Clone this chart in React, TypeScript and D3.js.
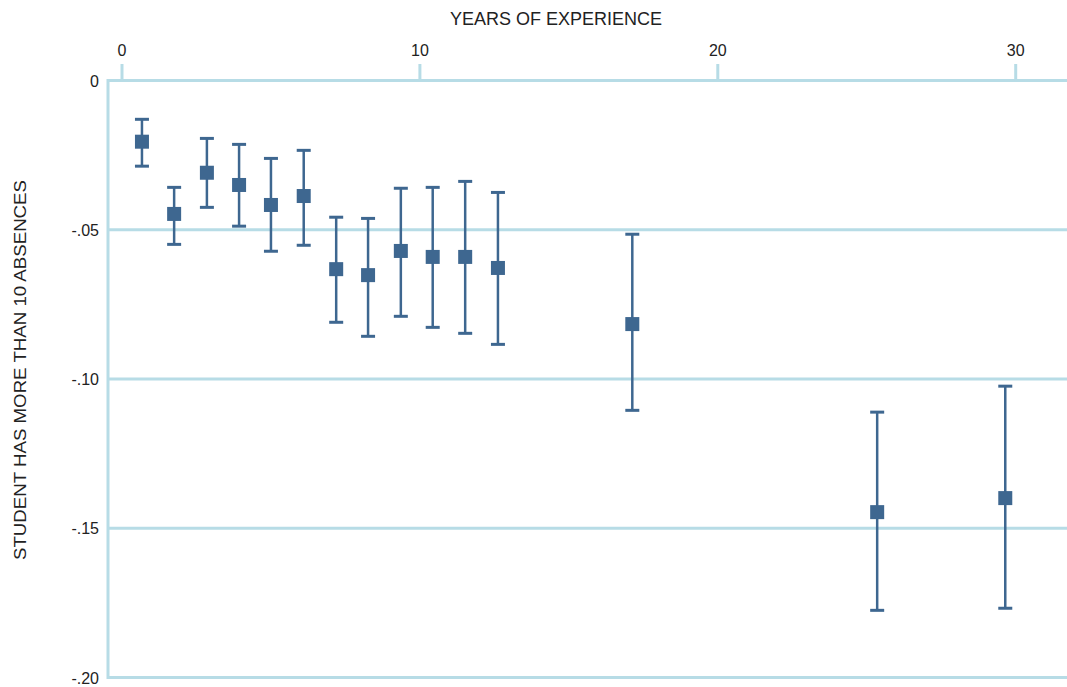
import React from 'react';
import * as d3 from 'd3';

// years of experience (bin means) and estimated effect with 95% CI
const years = [0.67, 1.75, 2.85, 3.93, 5.0, 6.1, 7.19, 8.26, 9.36, 10.43, 11.52, 12.62, 17.13, 25.35, 29.65];
const estimate = [-0.0205, -0.0447, -0.0309, -0.035, -0.0417, -0.0387, -0.0632, -0.0652, -0.0571, -0.0591, -0.0591, -0.0628, -0.0816, -0.1446, -0.1399];
const upper = [-0.013, -0.0358, -0.0194, -0.0214, -0.0261, -0.0234, -0.0458, -0.0462, -0.0361, -0.0358, -0.0338, -0.0375, -0.0515, -0.1111, -0.1024];
const lower = [-0.0287, -0.0549, -0.0425, -0.0488, -0.0572, -0.0552, -0.081, -0.0857, -0.079, -0.0827, -0.0847, -0.0884, -0.1105, -0.1775, -0.1768];

const xTicks = [0, 10, 20, 30];
const yTicks = [0, -0.05, -0.1, -0.15, -0.2];
const yTickLabels = ['0', '-.05', '-.10', '-.15', '-.20'];

const W = 1067;
const H = 687;
const left = 108;
const right = 1067;

const gridColor = '#b7dce6';
const markColor = '#3e6790';
const textColor = '#222';
const font = '"Liberation Sans", Arial, sans-serif';

const App: React.FC = () => {
  const x = d3.scaleLinear().domain([0, 30]).range([122, 1015.7]);
  const y = d3.scaleLinear().domain([0, -0.2]).range([80.5, 677.5]);

  const box = 14;
  const cap = 7;

  return (
    <div style={{ position: 'absolute', left: 0, top: 0 }}>
      <svg width={W} height={H} style={{ display: 'block', background: '#fff' }}>
        {/* horizontal grid lines (the 0 line doubles as the top axis) */}
        {yTicks.map((t) => (
          <line key={'g' + t} x1={left} x2={right} y1={y(t)} y2={y(t)} stroke={gridColor} strokeWidth={3} />
        ))}
        <line x1={left} x2={left} y1={y(0) - 1.5} y2={y(-0.2) + 1.5} stroke={gridColor} strokeWidth={3} />

        {/* top axis ticks */}
        {xTicks.map((t) => (
          <g key={'x' + t}>
            <line x1={x(t)} x2={x(t)} y1={64} y2={y(0)} stroke={gridColor} strokeWidth={3} />
            <text x={x(t)} y={56} textAnchor="middle" fontFamily={font} fontSize={16} fill={textColor}>
              {t}
            </text>
          </g>
        ))}
        <text x={556} y={25} textAnchor="middle" fontFamily={font} fontSize={18} fill={textColor}
          textLength={212} lengthAdjust="spacingAndGlyphs">
          YEARS OF EXPERIENCE
        </text>

        {/* y axis labels */}
        {yTicks.map((t, i) => (
          <text key={'y' + t} x={99} y={y(t) + 6} textAnchor="end" fontFamily={font} fontSize={16} fill={textColor}>
            {yTickLabels[i]}
          </text>
        ))}
        <text transform={`translate(26,370) rotate(-90)`} textAnchor="middle" fontFamily={font} fontSize={17}
          fill={textColor} textLength={380} lengthAdjust="spacingAndGlyphs">
          STUDENT HAS MORE THAN 10 ABSENCES
        </text>

        {/* error bars and point estimates */}
        {years.map((yr, i) => {
          const cx = x(yr);
          return (
            <g key={'p' + i}>
              <line x1={cx} x2={cx} y1={y(upper[i])} y2={y(lower[i])} stroke={markColor} strokeWidth={2.5} />
              <line x1={cx - cap} x2={cx + cap} y1={y(upper[i])} y2={y(upper[i])} stroke={markColor} strokeWidth={3} />
              <line x1={cx - cap} x2={cx + cap} y1={y(lower[i])} y2={y(lower[i])} stroke={markColor} strokeWidth={3} />
              <rect x={cx - box / 2} y={y(estimate[i]) - box / 2} width={box} height={box} fill={markColor} />
            </g>
          );
        })}
      </svg>
    </div>
  );
};

export default App;
